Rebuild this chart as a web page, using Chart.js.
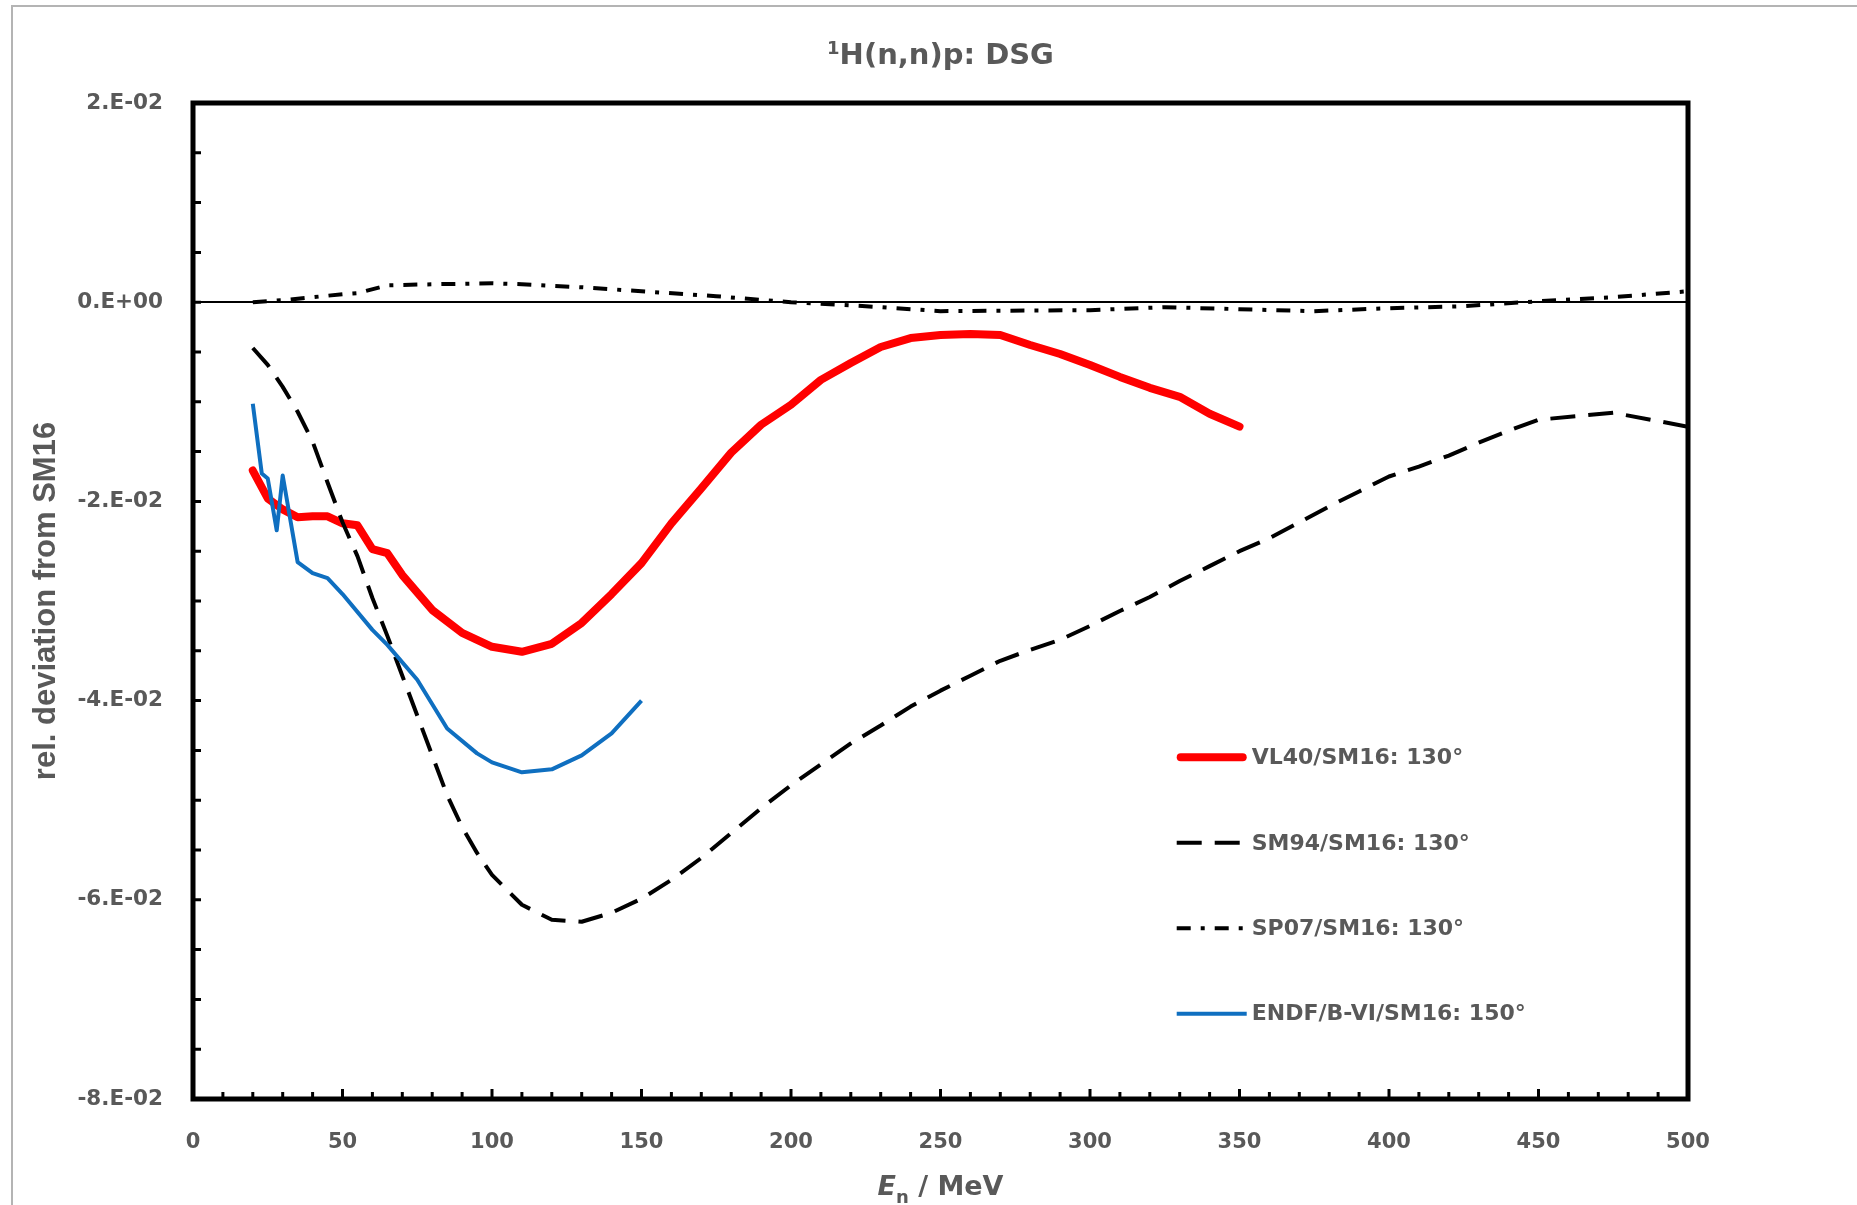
<!DOCTYPE html>
<html>
<head>
<meta charset="utf-8">
<script src="https://cdn.jsdelivr.net/npm/chart.js@4.4.1/dist/chart.umd.min.js"></script>
<style>
  html, body { margin: 0; padding: 0; background: #fff; }
  #wrap { position: relative; width: 1857px; height: 1205px; }
</style>
</head>
<body>
<div id="wrap"><canvas id="dsg"></canvas></div>
<script>
// 1H(n,n)p DSG: relative deviation from SM16 vs neutron energy

// VL40/SM16 at 130 deg
vl40_x = [20, 25, 30, 35, 40, 45, 50, 55, 60, 65, 70, 80, 90, 100, 110, 120, 130, 140, 150, 160,
          170, 180, 190, 200, 210, 220, 230, 240, 250, 260, 270, 280, 290, 300, 310, 320, 330, 340, 350];
vl40_y = [-0.0169, -0.0197, -0.0208, -0.0216, -0.0215, -0.0215, -0.0222, -0.0224, -0.0248, -0.0252,
          -0.0274, -0.0309, -0.0332, -0.0346, -0.0351, -0.0343, -0.0322, -0.0293, -0.0262, -0.0222,
          -0.0187, -0.0151, -0.0123, -0.0103, -0.0078, -0.0061, -0.0045, -0.0036, -0.0033, -0.0032,
          -0.0033, -0.0043, -0.0052, -0.0063, -0.0075, -0.0086, -0.0095, -0.0112, -0.0125];

// SM94/SM16 at 130 deg
sm94_x = [20, 25, 30, 35, 40, 45, 50, 55, 60, 65, 70, 75, 80, 85, 90, 95, 100, 110, 120, 130,
          140, 150, 160, 170, 180, 190, 200, 210, 220, 230, 240, 250, 260, 270, 280, 290, 300, 310,
          320, 330, 340, 350, 360, 370, 380, 390, 400, 410, 420, 430, 440, 450, 475, 500];
sm94_y = [-0.0046, -0.0063, -0.0085, -0.0110, -0.0140, -0.0181, -0.0221, -0.0255, -0.0297, -0.0335,
          -0.0375, -0.0415, -0.0455, -0.0495, -0.0527, -0.0553, -0.0575, -0.0605, -0.0620, -0.0622,
          -0.0613, -0.0599, -0.0580, -0.0558, -0.0533, -0.0508, -0.0485, -0.0464, -0.0443, -0.0425,
          -0.0406, -0.0390, -0.0375, -0.0360, -0.0349, -0.0339, -0.0325, -0.0310, -0.0296, -0.0280,
          -0.0265, -0.0250, -0.0237, -0.0221, -0.0205, -0.0190, -0.0175, -0.0165, -0.0154, -0.0141,
          -0.0129, -0.0118, -0.0111, -0.0125];

// SP07/SM16 at 130 deg
sp07_x = [20, 30, 40, 50, 55, 65, 80, 100, 110, 130, 150, 175, 200, 225, 250, 300, 325, 350, 375,
          400, 425, 450, 475, 500];
sp07_y = [0.0000, 0.0002, 0.0005, 0.0008, 0.0009, 0.0017, 0.0018, 0.0019, 0.0018, 0.0015, 0.0011,
          0.0006, 0.0000, -0.0004, -0.0009, -0.0008, -0.0005, -0.0007, -0.0009, -0.0006, -0.0004,
          0.0001, 0.0005, 0.0011];

// ENDF/B-VI/SM16 at 150 deg
endf_x = [20, 23, 25, 28, 30, 35, 40, 45, 50, 60, 65, 75, 85, 95, 100, 110, 120, 130, 140, 150];
endf_y = [-0.0102, -0.0172, -0.0177, -0.0229, -0.0174, -0.0261, -0.0272, -0.0277, -0.0293, -0.0329,
          -0.0344, -0.0379, -0.0428, -0.0453, -0.0462, -0.0472, -0.0469, -0.0455, -0.0433, -0.0400];

series_labels = ["VL40/SM16: 130°", "SM94/SM16: 130°", "SP07/SM16: 130°", "ENDF/B-VI/SM16: 150°"];

x_tick_values = [0, 50, 100, 150, 200, 250, 300, 350, 400, 450, 500];
y_tick_values = [-0.08, -0.06, -0.04, -0.02, 0, 0.02];
y_tick_labels = ["-8.E-02", "-6.E-02", "-4.E-02", "-2.E-02", "0.E+00", "2.E-02"];

const textGray = "#595959";

function pairs(xs, ys) {
  let out = [];
  for (let i = 0; i < xs.length; i++) {
    out.push({x: xs[i], y: ys[i]});
  }
  return out;
}

// title with superscript, x axis title with italic + subscript, frame, inner ticks, legend
const decor = {
  id: "decor",
  beforeDraw(chart) {
    const c = chart.ctx;
    c.save();
    // outer chart border (only left and top show in the picture)
    c.strokeStyle = "#b4b4b4";
    c.lineWidth = 2;
    c.beginPath();
    c.moveTo(12, 1205);
    c.lineTo(12, 6);
    c.lineTo(1857, 6);
    c.stroke();
    c.restore();
  },
  afterDraw(chart) {
    const c = chart.ctx;
    const a = chart.chartArea;
    const xs = chart.scales.x;
    const ys = chart.scales.y;
    const mid = (a.left + a.right) / 2;
    c.save();

    // chart title
    c.fillStyle = textGray;
    c.textBaseline = "alphabetic";
    c.font = "bold 18px 'DejaVu Sans'";
    const supW = c.measureText("1").width;
    c.font = "bold 29px 'DejaVu Sans'";
    const mainW = c.measureText("H(n,n)p: DSG").width;
    let tx = mid - (supW + mainW) / 2;
    c.textAlign = "left";
    c.font = "bold 18px 'DejaVu Sans'";
    c.fillText("1", tx, 54);
    c.font = "bold 29px 'DejaVu Sans'";
    c.fillText("H(n,n)p: DSG", tx + supW, 64);

    // x axis title
    c.font = "italic bold 27px 'DejaVu Sans'";
    const eW = c.measureText("E").width;
    c.font = "bold 18px 'DejaVu Sans'";
    const nW = c.measureText("n").width;
    c.font = "bold 27px 'DejaVu Sans'";
    const restW = c.measureText(" / MeV").width;
    tx = mid - (eW + nW + restW) / 2;
    c.font = "italic bold 27px 'DejaVu Sans'";
    c.fillText("E", tx, 1195);
    c.font = "bold 18px 'DejaVu Sans'";
    c.fillText("n", tx + eW, 1203);
    c.font = "bold 27px 'DejaVu Sans'";
    c.fillText(" / MeV", tx + eW + nW, 1195);

    // inner tick marks
    c.strokeStyle = "#000";
    c.lineWidth = 3;
    c.beginPath();
    for (let v = 10; v < 500; v += 10) {
      const px = xs.getPixelForValue(v);
      const len = (v % 50 === 0) ? 10 : 7;
      c.moveTo(px, a.bottom);
      c.lineTo(px, a.bottom - len);
    }
    for (let k = -15; k < 4; k++) {
      const py = ys.getPixelForValue(k * 0.005);
      c.moveTo(a.left, py);
      c.lineTo(a.left + 8, py);
    }
    c.stroke();

    // plot frame
    c.lineWidth = 5;
    c.strokeRect(a.left, a.top, a.right - a.left, a.bottom - a.top);

    // legend inside the plot
    const lx = a.left + 0.658 * (a.right - a.left);
    const h = a.bottom - a.top;
    c.font = "bold 22px 'DejaVu Sans'";
    c.textBaseline = "middle";
    chart.data.datasets.forEach(function(ds, i) {
      const ly = a.top + 0.657 * h + i * 0.0858 * h;
      c.strokeStyle = ds.borderColor;
      c.lineWidth = ds.borderWidth;
      c.lineCap = ds.borderCapStyle || "butt";
      c.setLineDash(ds.borderDash || []);
      c.beginPath();
      c.moveTo(lx + (ds.borderWidth > 5 ? 4 : 0), ly);
      c.lineTo(lx + 70 - (ds.borderWidth > 5 ? 4 : 0), ly);
      c.stroke();
      c.setLineDash([]);
      c.fillStyle = textGray;
      c.fillText(ds.label, lx + 75, ly + 1);
    });
    c.restore();
  }
};

const data = {
  datasets: [{
    label: series_labels[0],
    data: pairs(vl40_x, vl40_y),
    borderColor: "#ff0000",
    borderWidth: 8,
    borderCapStyle: "round",
    order: 3,
  }, {
    label: series_labels[1],
    data: pairs(sm94_x, sm94_y),
    borderColor: "#000000",
    borderWidth: 4,
    borderDash: [25, 13],
    order: 2,
  }, {
    label: series_labels[2],
    data: pairs(sp07_x, sp07_y),
    borderColor: "#000000",
    borderWidth: 4,
    borderDash: [14, 10, 4, 10],
    order: 1,
  }, {
    label: series_labels[3],
    data: pairs(endf_x, endf_y),
    borderColor: "#0f6fc0",
    borderWidth: 4,
    order: 0,
  }]
};

const options = {
  responsive: true,
  maintainAspectRatio: false,
  animation: false,
  layout: {
    padding: {left: 28, right: 169, top: 103, bottom: 0}
  },
  elements: {
    point: { radius: 0 },
    line: { tension: 0, borderJoinStyle: "round", fill: false }
  },
  plugins: {
    legend: { display: false },
    title: { display: false },
    tooltip: { enabled: false }
  },
  scales: {
    x: {
      type: "linear",
      min: 0,
      max: 500,
      afterBuildTicks: function(s) { s.ticks = x_tick_values.map(v => ({value: v})); },
      afterFit: function(s) { s.height = 106; },
      grid: { display: false, drawTicks: false },
      border: { display: false },
      ticks: {
        autoSkip: false,
        maxRotation: 0,
        padding: 31,
        color: textGray,
        font: { family: "'DejaVu Sans'", size: 21, weight: "bold" }
      }
    },
    y: {
      type: "linear",
      min: -0.08,
      max: 0.02,
      afterBuildTicks: function(s) { s.ticks = y_tick_values.map(v => ({value: v})); },
      afterFit: function(s) { s.width = 165; },
      grid: {
        drawTicks: false,
        lineWidth: 2,
        color: function(ctx) { return (ctx.tick && ctx.tick.value === 0) ? "#000" : "rgba(0,0,0,0)"; }
      },
      border: { display: false },
      ticks: {
        padding: 30,
        color: textGray,
        font: { family: "'DejaVu Sans'", size: 21.5, weight: "bold" },
        callback: function(value, index) { return y_tick_labels[index]; }
      },
      title: {
        display: true,
        text: "rel. deviation from SM16",
        color: textGray,
        padding: 0,
        font: { family: "'Liberation Sans'", size: 31, weight: "bold" }
      }
    }
  }
};

const ctx = document.getElementById("dsg").getContext("2d");
myChart = new Chart(ctx, {
  type: "line",
  data: data,
  options: options,
  plugins: [decor]
});
</script>
</body>
</html>
